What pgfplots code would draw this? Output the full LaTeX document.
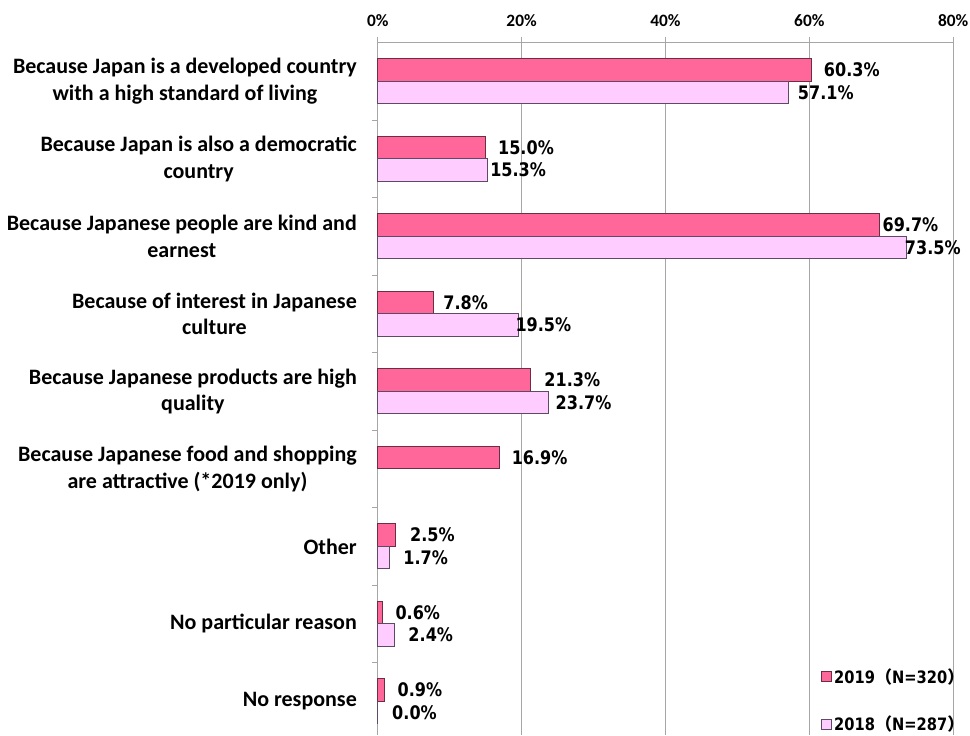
\documentclass[border=0pt]{standalone}
\usepackage{fontspec}
\setmainfont{Carlito}
\newfontfamily\dl{DejaVu Sans}[FakeStretch=0.86]
\newfontfamily\cjk{Noto Sans CJK JP}
\usepackage{pgfplots}
\pgfplotsset{compat=1.18}
\usepackage{pgfplotstable}

\definecolor{c19}{HTML}{FF6699}
\definecolor{c18}{HTML}{FFCCFF}
\definecolor{e19}{HTML}{6B2E45}
\definecolor{e18}{HTML}{5E4A64}
\definecolor{gridc}{HTML}{A6A6A6}

\pgfplotstableread{
y x dx
8 60.3 12
7 15.0 12
6 69.7 3
5 7.8 9
4 21.3 13
3 16.9 12
2 2.5 14
1 0.6 13
0 0.9 13
}\dataA
\pgfplotstableread{
y x dx
8 57.1 9
7 15.3 2
6 73.5 -2
5 19.5 -3
4 23.7 7
2 1.7 13
1 2.4 13
0 0.0 14
}\dataB

\begin{document}
\begin{tikzpicture}[x=1pt,y=1pt]
\useasboundingbox (0,0) rectangle (727.5,-551.25);
\begin{axis}[
  at={(283.3pt,-32pt)}, anchor=north west,
  scale only axis, width=431.6pt, height=519.2pt,
  xmin=0, xmax=80, ymin=-0.433, ymax=8.5,
  axis x line*=top, axis y line*=left,
  axis line style={draw=gridc, line width=0.75pt},
  tick align=outside,
  major tick length=4.5pt, minor tick length=4.5pt,
  tick style={draw=gridc, line width=0.75pt},
  major y tick style={draw=none},
  xtick={0,20,40,60,80},
  xticklabels={0\%,20\%,40\%,60\%,80\%},
  xticklabel style={font=\bfseries\fontsize{13}{15}\selectfont, inner sep=0pt, yshift=7pt},
  ytick={0,1,2,3,4,5,6,7,8},
  minor ytick={-0.5,0.5,1.5,2.5,3.5,4.5,5.5,6.5,7.5},
  yticklabels={
    {No response},
    {No particular reason},
    {Other},
    {Because Japanese food and shopping\\are attractive (*2019 only)},
    {Because Japanese products are high\\quality},
    {Because of interest in Japanese\\culture},
    {Because Japanese people are kind and\\earnest},
    {Because Japan is also a democratic\\country},
    {Because Japan is a developed country\\with a high standard of living}},
  yticklabel style={font=\bfseries\fontsize{16.5}{20}\selectfont, align=center, inner sep=0pt, xshift=-11pt},
  xmajorgrids,
  grid style={draw=gridc, line width=0.75pt},
  xbar, bar width=16.875pt,
  /pgf/number format/assume math mode=true,
  point meta=x,
  nodes near coords={\pgfmathprintnumber[fixed,fixed zerofill,precision=1]{\pgfplotspointmeta}\%},
  nodes near coords style={font=\dl\bfseries\fontsize{14}{16}\selectfont, inner sep=0pt, text=black},
  legend style={at={(0.762,0.104)}, anchor=north west, draw=none, fill=none,
    font=\dl\bfseries\fontsize{12.8}{14}\selectfont, row sep=19pt},
  legend cell align=left,
  clip=false,
]
\addplot[xbar, bar shift=8.4375pt, fill=c19, draw=e19, line width=0.75pt,
  visualization depends on={0.75*\thisrow{dx} \as \dx},
  every node near coord/.append style={xshift=\dx pt},
  legend image code/.code={\draw[fill=c19,draw=e19,line width=0.75pt] (0pt,-3.75pt) rectangle (7.5pt,3.75pt);}]
  table[x=x,y=y]{\dataA};
\addlegendentry{2019{\cjk （}N=320{\cjk ）}}
\addplot[xbar, bar shift=-8.4375pt, fill=c18, draw=e18, line width=0.75pt,
  visualization depends on={0.75*\thisrow{dx} \as \dx},
  every node near coord/.append style={xshift=\dx pt},
  legend image code/.code={\draw[fill=c18,draw=e18,line width=0.75pt] (0pt,-3.75pt) rectangle (7.5pt,3.75pt);}]
  table[x=x,y=y]{\dataB};
\addlegendentry{2018{\cjk （}N=287{\cjk ）}}
\end{axis}
\end{tikzpicture}
\end{document}
